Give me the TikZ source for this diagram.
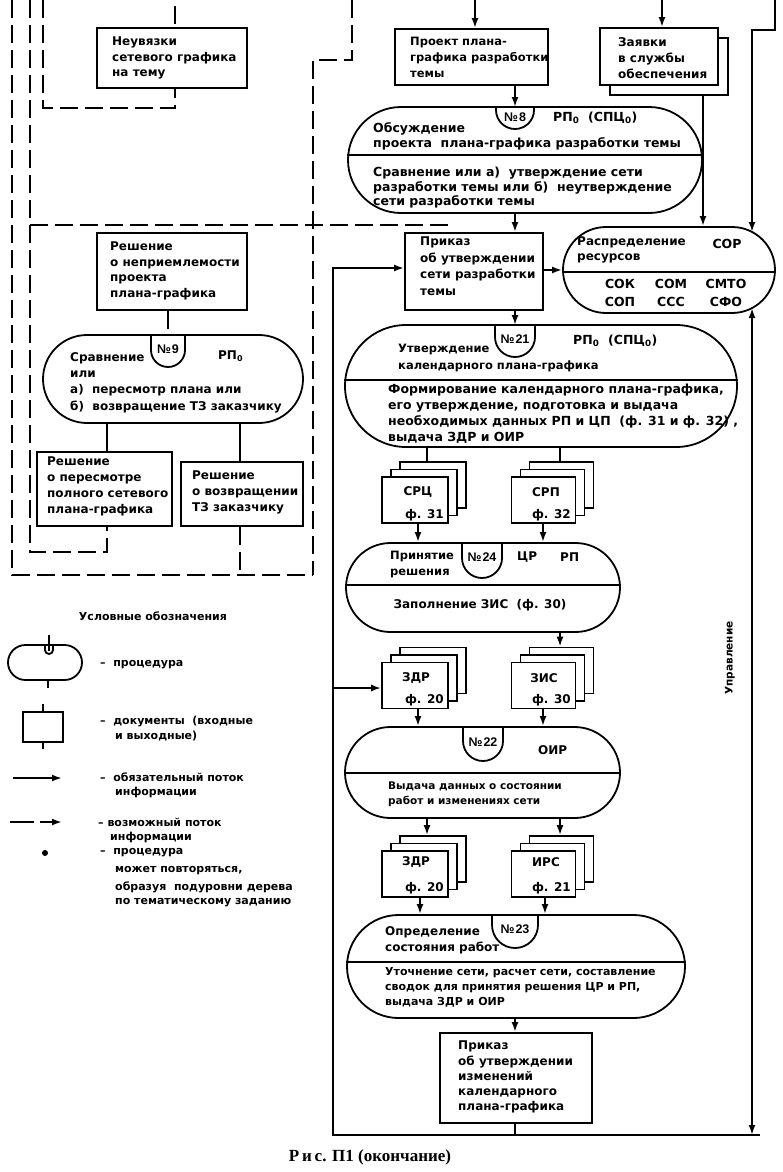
\documentclass[tikz,border=0pt]{standalone}
\usepackage{fontspec}
\setmainfont{DejaVu Sans}
\newfontfamily\capfont{Liberation Serif}
\newfontfamily\tabfont{Liberation Sans}
\usetikzlibrary{arrows.meta}
\newcommand\bodyfont{\fontsize{12}{15.5}\selectfont\bfseries}
\newcommand\fsz[2]{\fontsize{#1}{#2}\selectfont\bfseries}
\newcommand\mystack[4]{%
  \node[sheet, minimum width=#4pt] (#1c) at (#2+18,#3-15) {};
  \node[sheet, minimum width=#4pt] (#1b) at (#2+9,#3-7.5) {};
  \node[sheet, minimum width=#4pt] (#1) at (#2,#3) {};}
\newcommand\proctab[5]{%
  \draw[proc] (#2-#4,#3) -- ++(0,#5) arc[start angle=180,end angle=360,radius=#4pt] -- (#2+#4,#3);
  \coordinate (#1) at (#2,#3);}
\begin{document}
\begin{tikzpicture}[x=1pt,y=-1pt,
  every node/.style={inner sep=0pt, font=\bodyfont},
  box/.style={draw, line width=1.8pt, fill=white},
  sheet/.style={draw, line width=1.6pt, fill=white, minimum height=46pt},
  proc/.style={draw, line width=1.8pt},
  flow/.style={line width=2pt},
  arr/.style={line width=2pt, -{Latex[length=10pt,width=7pt]}},
  arrboth/.style={line width=2pt, {Latex[length=10pt,width=7pt]}-{Latex[length=10pt,width=7pt]}},
  dline/.style={line width=1.8pt, dash pattern=on 18pt off 7pt},
  txt/.style={anchor=north west, align=left},
  tablabel/.style={font=\tabfont\fontsize{12.5}{14}\selectfont\bfseries},
  legend/.style={anchor=west, font=\fsz{11}{13}},
]
\fill[white] (0,0) rectangle (783,1172);
\useasboundingbox (0,0) rectangle (783,1172);

% ---------- rectangles ----------
\node[box, minimum width=150pt, minimum height=60pt] (neuv) at (172,58) {};
\node[txt] (tneuv) at (112,37) {Неувязки\\сетевого графика\\на тему};

\node[box, minimum width=153pt, minimum height=56pt] (proekt) at (471.5,57) {};
\node[txt, font=\fsz{11.5}{16}] (tproekt) at (410,37) {Проект плана-\\графика разработки\\темы};

\node[box, minimum width=118pt, minimum height=57pt] (zayb) at (669,66.5) {};
\node[box, minimum width=118pt, minimum height=57pt] (zay) at (659,56.5) {};
\node[txt, font=\fsz{12}{16}] (tzay) at (618,37) {Заявки\\в службы\\обеспечения};

\node[box, minimum width=138pt, minimum height=77pt] (prik1) at (474,271.5) {};
\node[txt, font=\fsz{12}{16.5}] (tprik1) at (420,237) {Приказ\\об утверждении\\сети разработки\\темы};

\node[box, minimum width=150pt, minimum height=77pt] (rnepr) at (172,271.5) {};
\node[txt] (trnepr) at (110,242) {Решение\\о неприемлемости\\проекта\\плана-графика};

\node[box, minimum width=135pt, minimum height=74pt] (rper) at (104.5,489) {};
\node[txt, font=\fsz{12}{16}] (trper) at (47,457) {Решение\\о пересмотре\\полного сетевого\\плана-графика};

\node[box, minimum width=122pt, minimum height=64pt] (rvoz) at (242,494) {};
\node[txt, font=\fsz{12}{16}] (trvoz) at (192,471) {Решение\\о возвращении\\ТЗ заказчику};

\node[box, minimum width=152pt, minimum height=90pt] (prik2) at (516,1078) {};
\node[txt, font=\fsz{12}{15.2}] (tprik2) at (458,1041) {Приказ\\об утверждении\\изменений\\календарного\\плана-графика};

% ---------- procedures ----------
\node[proc, minimum width=354pt, minimum height=106pt, rounded corners=53pt] (p8) at (525,160) {};
\proctab{t8}{515}{107}{19}{3}
\node[tablabel] (n8) at (515,117) {№\kern1pt 8};
\node[anchor=west, font=\fsz{12.5}{15}] (r8) at (553,118) {РП\textsubscript{0} \ (СПЦ\textsubscript{0})};
\node[txt, font=\fsz{12.5}{15}] (u8) at (373,122) {Обсуждение\\проекта \ плана-графика разработки темы};
\draw[proc] (p8.west |- 0,155) -- (p8.east |- 0,155);
\node[txt, font=\fsz{12.5}{14.5}] (l8) at (373,167) {Сравнение или а) \ утверждение сети\\разработки темы или б) \ неутверждение\\сети разработки темы};

\node[proc, minimum width=212pt, minimum height=86pt, rounded corners=43pt] (raspr) at (669,270) {};
\draw[proc] (raspr.west |- 0,272) -- (raspr.east |- 0,272);
\node[txt, font=\fsz{12}{15}] (tr1) at (577,237) {Распределение\\ресурсов};
\node[font=\fsz{12.5}{15}] (tr2) at (727,244) {СОР};
\node[font=\fsz{12.5}{15}] (s1) at (620,284) {СОК};
\node[font=\fsz{12.5}{15}] (s2) at (671,284) {СОМ};
\node[font=\fsz{12.5}{15}] (s3) at (726,284) {СМТО};
\node[font=\fsz{12.5}{15}] (s4) at (620,302) {СОП};
\node[font=\fsz{12.5}{15}] (s5) at (671,302) {ССС};
\node[font=\fsz{12.5}{15}] (s6) at (726,302) {СФО};

\node[proc, minimum width=392pt, minimum height=122pt, rounded corners=61pt] (p21) at (541,386) {};
\proctab{t21}{515}{325}{20}{12}
\node[tablabel] (n21) at (515,339) {№\kern1pt 21};
\node[anchor=west, font=\fsz{12.5}{15}] (r21) at (573,341) {РП\textsubscript{0} \ (СПЦ\textsubscript{0})};
\node[txt, font=\fsz{11.5}{16.5}] (u21) at (398,344) {Утверждение\\календарного плана-графика};
\draw[proc] (p21.west |- 0,380) -- (p21.east |- 0,380);
\node[txt, font=\fsz{12.5}{16}] (l21) at (388,384) {Формирование календарного плана-графика,\\его утверждение, подготовка и выдача\\необходимых данных РП и ЦП \ (ф. 31 и ф. 32) ,\\выдача ЗДР и ОИР};

\node[proc, minimum width=260pt, minimum height=88pt, rounded corners=44pt] (p9) at (173,379) {};
\proctab{t9}{168}{335}{17}{15}
\node[tablabel] (n9) at (168,349) {№\kern1pt 9};
\node[anchor=west] (r9) at (218,356) {РП\textsubscript{0}};
\node[txt, font=\fsz{12}{16.3}] (u9) at (70,352) {Сравнение\\или\\а) \ пересмотр плана или\\б) \ возвращение ТЗ заказчику};

\node[proc, minimum width=274pt, minimum height=89pt, rounded corners=44.5pt] (p24) at (483,587.5) {};
\proctab{t24}{482}{543}{20}{15}
\node[tablabel] (n24) at (482,557) {№\kern1pt 24};
\node[txt, font=\fsz{11.5}{15.5}] (u24) at (390,551) {Принятие\\решения};
\node[anchor=west] (c24a) at (517,557) {ЦР};
\node[anchor=west] (c24b) at (560,557) {РП};
\draw[proc] (p24.west |- 0,585) -- (p24.east |- 0,585);
\node (l24) at (480,605) {Заполнение ЗИС \ (ф. 30)};

\node[proc, minimum width=275pt, minimum height=91pt, rounded corners=45.5pt] (p22) at (482.5,772.5) {};
\proctab{t22}{483}{727}{20}{14}
\node[tablabel] (n22) at (483,742) {№\kern1pt 22};
\node[anchor=west] (r22) at (538,750) {ОИР};
\draw[proc] (p22.west |- 0,773) -- (p22.east |- 0,773);
\node[txt, font=\fsz{10.5}{15}] (l22) at (388,782) {Выдача данных о состоянии\\работ и изменениях сети};

\node[proc, minimum width=338pt, minimum height=103pt, rounded corners=51.5pt] (p23) at (516,966.5) {};
\proctab{t23}{515}{915}{23}{10}
\node[tablabel] (n23) at (515,929) {№\kern1pt 23};
\node[txt, font=\fsz{12}{16}] (u23) at (385,926) {Определение\\состояния работ};
\draw[proc] (p23.west |- 0,962) -- (p23.east |- 0,962);
\node[txt, font=\fsz{11}{15}] (l23) at (385,967) {Уточнение сети, расчет сети, составление\\сводок для принятия решения ЦР и РП,\\выдача ЗДР и ОИР};

% ---------- document stacks ----------
\mystack{srts}{415}{500}{66}
\node (a1) at (418,492) {СРЦ};
\node[anchor=east] (a2) at (444,515) {ф. 31};
\mystack{srp}{543.5}{500}{64}
\node (b1) at (546,492) {СРП};
\node[anchor=east] (b2) at (571,515) {ф. 32};
\mystack{zdr1}{415}{685.5}{66}
\node (c1) at (416,678) {ЗДР};
\node[anchor=east] (c2) at (444,700) {ф. 20};
\mystack{zis}{543.5}{685.5}{64}
\node (d1) at (544,678) {ЗИС};
\node[anchor=east] (d2) at (571,700) {ф. 30};
\mystack{zdr2}{415}{874}{66}
\node (e1) at (416,862) {ЗДР};
\node[anchor=east] (e2) at (444,888) {ф. 20};
\mystack{irs}{543.5}{874}{64}
\node (f1) at (546,862) {ИРС};
\node[anchor=east] (f2) at (571,888) {ф. 21};

% ---------- solid connectors ----------
\coordinate (in1) at (475,0);
\coordinate (in2) at (662,0);
\coordinate (in3) at (775,0);
\draw[arr] (in1) -- (proekt.north -| in1);
\draw[arr] (in2) -- (zay.north -| in2);
\draw[arr] (proekt.south -| t8) -- (t8);
\draw[arr] (zayb.south -| 703,0) -- (raspr.north -| 703,0);
\coordinate (rtop) at (752,232);
\draw[arr] (in3) |- (752,30) -- (rtop);
\draw[arr] (p8.south -| 515,0) -- (prik1.north -| 515,0);
\draw[arr] (prik1.east |- 0,270) -- (raspr.west |- 0,270);
\draw[arr] (prik1.south -| t21) -- (t21);
\draw[flow] (p21.south -| 427,0) -- (srtsc.north -| 427,0);
\draw[flow] (p21.south -| 560,0) -- (srpc.north -| 560,0);
\draw[arr] (srts.south -| 418,0) -- (p24.north -| 418,0);
\draw[arr] (srp.south -| 543,0) -- (p24.north -| 543,0);
\draw[arr] (p24.south -| 560,0) -- (zisc.north -| 560,0);
\draw[arr] (zdr1.south -| 418,0) -- (p22.north -| 418,0);
\draw[arr] (zis.south -| 543,0) -- (p22.north -| 543,0);
\draw[arr] (p22.south -| 427,0) -- (zdr2c.north -| 427,0);
\draw[arr] (p22.south -| 560,0) -- (irsc.north -| 560,0);
\draw[arr] (zdr2.south -| 420,0) -- (p23.north -| 420,0);
\draw[arr] (irs.south -| 545,0) -- (p23.north -| 545,0);
\draw[arr] (p23.south -| 515,0) -- (prik2.north -| 515,0);
\coordinate (bj) at (515,1135);
\coordinate (bl) at (333,1135);
\coordinate (br) at (760,1135);
\coordinate (rb) at (752,1135);
\coordinate (rbot) at (752,308);
\draw[flow] (prik2.south -| bj) -- (bj);
\draw[arr, line width=2.4pt] (br) -- (bl) |- (prik1.west |- 0,268);
\draw[arr] (333,688) -- (zdr1.west |- 0,688);
\draw[arrboth] (rb) -- (rbot);
\draw[flow] (p9.south -| 107,0) -- (rper.north -| 107,0);
\draw[flow] (p9.south -| 240,0) -- (rvoz.north -| 240,0);

% ---------- dashed connectors ----------
\draw[dline] (12,0) |- (313,575);
\draw[dline] (352,0) |- (313,60) -- (313,575);
\draw[dline] (30,0) |- (107,552) -- (rper.south -| 107,0);
\draw[dline] (43,0) |- (175,108) -- (neuv.south -| 175,0);
\draw[dline] (175,6) -- (neuv.north -| 175,0);
\draw[dline] (30,225) -- (452,225);
\draw[dline] (rnepr.south -| t9) -- (t9);
\draw[dline] (rvoz.south -| 240,0) -- (240,575);

% ---------- side label ----------
\node[rotate=90, font=\fsz{10.5}{12}] (upr) at (730,658) {Управление};

% ---------- legend ----------
\node[font=\fsz{11}{13}] (lgt) at (153,616) {Условные обозначения};
\node[proc, minimum width=74pt, minimum height=35pt, rounded corners=17.5pt] (lgp) at (45,662.5) {};
\proctab{lgtab}{49}{645}{4}{5}
\draw[flow] (49,635) -- (49,651);
\draw[flow] (lgp.south -| 48,0) -- (48,688);
\node[legend] (lgpt) at (100,665) {– \ процедура};
\node[box, minimum width=40pt, minimum height=30pt] (lgd) at (43,727) {};
\draw[flow] (lgd.north) -- ++(0,-7);
\draw[flow] (lgd.south) -- ++(0,6);
\node[legend] (lgdt1) at (100,722) {– \ документы \ (входные};
\node[legend] (lgdt2) at (115,736) {и выходные)};
\coordinate (la1) at (13,778);
\coordinate (la2) at (62,778);
\draw[arr] (la1) -- (la2);
\node[legend] (lat1) at (100,777) {– \ обязательный поток};
\node[legend] (lat2) at (115,792) {информации};
\coordinate (lb1) at (10,822);
\coordinate (lb2) at (62,822);
\draw[arr, dash pattern=on 24pt off 6pt] (lb1) -- (lb2);
\node[legend] (lbt1) at (98,822) {– возможный поток};
\node[legend] (lbt2) at (110,837) {информации};
\node[circle, fill=black, minimum size=6pt] (ldot) at (45,853) {};
\node[legend] (ldt1) at (100,853) {– \ процедура};
\node[legend] (ldt2) at (115,871) {может повторяться,};
\node[legend] (ldt3) at (115,887) {образуя \ подуровни дерева};
\node[legend] (ldt4) at (115,903) {по тематическому заданию};

% ---------- caption ----------
\node[font=\capfont\bfseries\fontsize{17}{19}\selectfont] (cap) at (370,1157) {Р\,и\,с. П1 (окончание)};
\end{tikzpicture}
\end{document}
